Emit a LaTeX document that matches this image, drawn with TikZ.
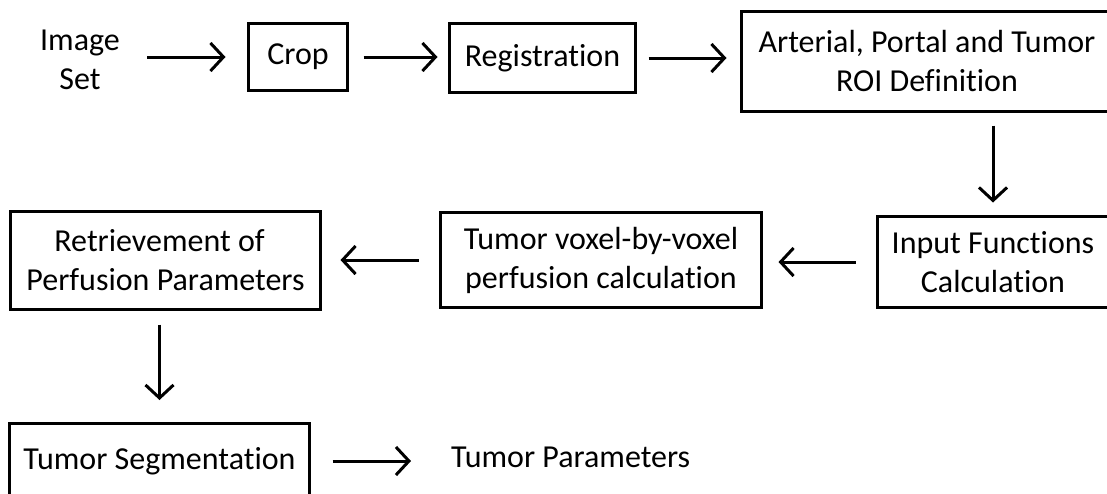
\documentclass[tikz,border=0pt]{standalone}
\usepackage{fontspec}
\setmainfont[RawFeature={-liga}]{Carlito}
\usetikzlibrary{arrows.meta}
\begin{document}
\begin{tikzpicture}[x=1pt,y=-1pt,
  txt/.style={inner sep=0pt,align=center,font=\fontsize{32}{39}\selectfont},
  stepbox/.style={txt,draw,line width=3pt},
  arr/.style={line width=3pt,-{Straight Barb[length=13pt,width=28pt]}}]
\clip (0,0) rectangle (1107,493);
\fill[white] (0,0) rectangle (1107,493);
\node[txt] (img) at (80,60) {Image\\Set};
\node[stepbox,minimum width=99pt,minimum height=67pt] (crop) at (298,57) {Crop};
\node[stepbox,minimum width=186pt,minimum height=69pt] (reg) at (542.5,58) {Registration};
\node[stepbox,minimum width=371pt,minimum height=100pt] (art) at (927,61.5) {Arterial, Portal and Tumor\\ROI Definition};
\node[stepbox,minimum width=231pt,minimum height=91pt] (inp) at (993,262) {Input Functions\\Calculation};
\node[stepbox,minimum width=321pt,minimum height=95pt] (vox) at (601,260) {Tumor voxel-by-voxel\\perfusion calculation};
\node[stepbox,minimum width=310pt,minimum height=98pt] (ret) at (165.5,260.5) {Retrievement of\hspace*{12pt}\\Perfusion Parameters};
\node[stepbox,minimum width=300pt,minimum height=76pt] (seg) at (159.5,461) {Tumor Segmentation};
\node[txt,anchor=base west] (par) at (451,467) {Tumor Parameters};
\draw[arr,shorten <=27pt,shorten >=21.5pt] (img.east |- crop.west) -- (crop.west);
\draw[arr,shorten <=14.5pt,shorten >=10.5pt] (crop.east) -- (crop.east -| reg.west);
\draw[arr,shorten <=11.5pt,shorten >=13.5pt] (reg.east) -- (reg.east -| art.west);
\draw[arr,shorten <=12.5pt,shorten >=12.5pt] (inp.north |- art.south) -- (inp.north);
\draw[arr,shorten <=20.5pt,shorten >=15.5pt] (inp.west) -- (inp.west -| vox.east);
\draw[arr,shorten <=20.5pt,shorten >=18.5pt] (vox.west) -- (vox.west -| ret.east);
\draw[arr,shorten <=13.5pt,shorten >=21.5pt] (seg.north |- ret.south) -- (seg.north);
\draw[arr,shorten <=21.5pt,shorten >=40pt] (seg.east) -- (seg.east -| par.west);
\end{tikzpicture}
\end{document}
